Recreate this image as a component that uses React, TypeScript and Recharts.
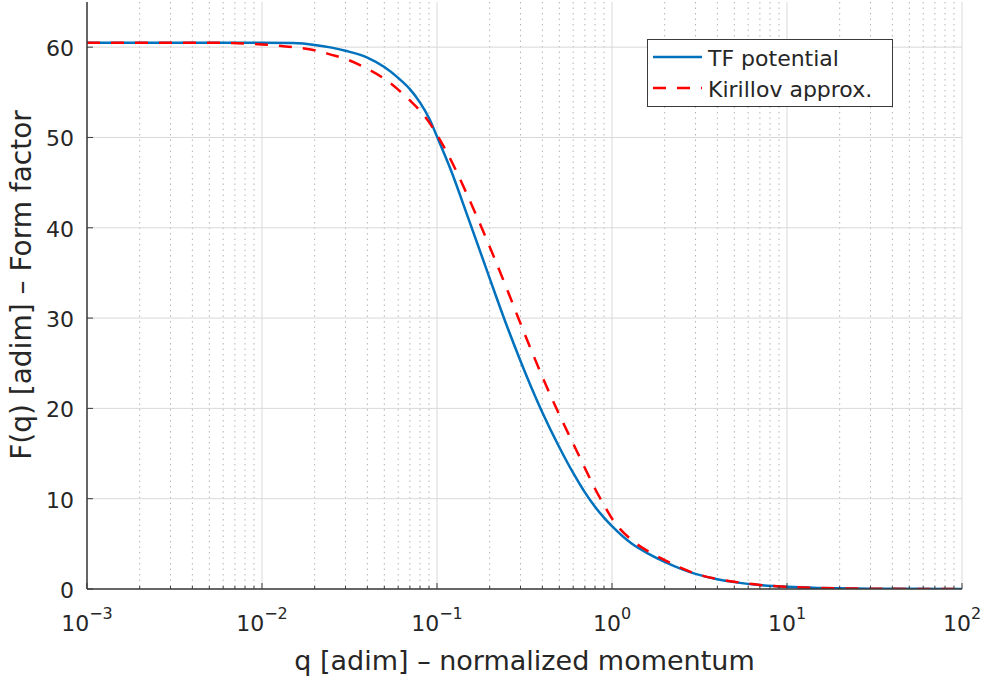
import { LineChart, Line, XAxis, YAxis, CartesianGrid, Legend } from "recharts";

// q grid (log spaced) and the two form factor curves
const qValues = [
  0.001, 0.002, 0.005, 0.01, 0.015, 0.02, 0.025, 0.03, 0.04, 0.05, 0.06, 0.07,
  0.08, 0.09, 0.1, 0.12, 0.15, 0.18, 0.2, 0.25, 0.3, 0.35, 0.4, 0.5, 0.6, 0.7,
  0.8, 0.9, 1, 1.3, 1.6, 2, 2.5, 3, 4, 5, 7, 10, 15, 20, 30, 50, 100,
];
const tfPotential = [
  60.5, 60.5, 60.5, 60.5, 60.45, 60.25, 59.95, 59.6, 58.85, 57.8, 56.6, 55.35,
  53.85, 52.15, 50.1, 46.4, 41.2, 36.9, 34.4, 29.2, 25.25, 22.1, 19.55, 15.7, 12.85, 10.7,
  9.1, 7.9, 6.95, 5.0, 3.95, 3.0, 2.2, 1.68, 1.08, 0.76, 0.44, 0.24, 0.12, 0.08, 0.04, 0.02, 0.01,
];
const kirillovApprox = [
  60.5, 60.5, 60.5, 60.3, 60.0, 59.65, 59.15, 58.7, 57.6, 56.5, 55.3, 54.1,
  52.95, 51.7, 50.3, 47.5, 43.5, 40.0, 37.9, 33.3, 29.4, 26.2, 23.5, 19.3, 16.1, 13.4,
  11.1, 9.3, 7.8, 5.4, 4.2, 3.2, 2.3, 1.7, 1.1, 0.8, 0.45, 0.25, 0.12, 0.07, 0.03, 0.01, 0.005,
];

const xMajorTicks = [0.001, 0.01, 0.1, 1, 10, 100];
const xTickExponents = ["\u22123", "\u22122", "\u22121", "0", "1", "2"];
const xMinorTicks = xMajorTicks.slice(0, -1).flatMap((d) =>
  [2, 3, 4, 5, 6, 7, 8, 9].map((m) => m * d)
);
const xAllTicks = [...xMajorTicks, ...xMinorTicks];
const yTicks = [0, 10, 20, 30, 40, 50, 60];

const chartData = qValues.map((q, i) => ({
  q,
  tf: tfPotential[i],
  kir: kirillovApprox[i],
}));

const FONT = "'DejaVu Sans', sans-serif";
const AXIS = "#3a3a3a";
const TEXT = "#262626";
const BLUE = "#0072BD";
const RED = "#FF0000";

const isMajor = (v: number) =>
  Math.abs(Math.log10(v) - Math.round(Math.log10(v))) < 1e-9;

const BottomTick = (props: any) => {
  const { x, y, payload } = props;
  const v = payload.value;
  const major = isMajor(v);
  const idx = xMajorTicks.findIndex((t) => Math.abs(Math.log10(t) - Math.log10(v)) < 1e-9);
  return (
    <g>
      <line x1={x} y1={y} x2={x} y2={y - (major ? 6 : 3)} stroke={AXIS} strokeWidth={1} />
      {major && (
        <text x={x} y={y + 42} textAnchor="middle" fontFamily={FONT} fontSize={22} fill={TEXT}>
          <tspan>10</tspan>
          <tspan dy={-12} fontSize={16}>{xTickExponents[idx]}</tspan>
        </text>
      )}
    </g>
  );
};

const TopTick = (props: any) => {
  const { x, y, payload } = props;
  const major = isMajor(payload.value);
  return <line x1={x} y1={y} x2={x} y2={y + (major ? 6 : 3)} stroke={AXIS} strokeWidth={1} />;
};

const LeftTick = (props: any) => {
  const { x, y, payload } = props;
  return (
    <g>
      <line x1={x} y1={y} x2={x + 6} y2={y} stroke={AXIS} strokeWidth={1} />
      <text x={x - 13} y={y + 9} textAnchor="end" fontFamily={FONT} fontSize={22} fill={TEXT}>
        {payload.value}
      </text>
    </g>
  );
};

const RightTick = (props: any) => {
  const { x, y } = props;
  return <line x1={x} y1={y} x2={x - 6} y2={y} stroke={AXIS} strokeWidth={1} />;
};

const LegendBox = () => (
  <svg width={246} height={68} style={{ display: "block" }}>
    <rect x={0.5} y={0.5} width={245} height={67} fill="#fff" stroke={AXIS} strokeWidth={1} />
    <line x1={6} y1={18} x2={55} y2={18} stroke={BLUE} strokeWidth={2.5} />
    <text x={61} y={27} fontFamily={FONT} fontSize={22} fill={TEXT}>TF potential</text>
    <line x1={6} y1={49} x2={55} y2={49} stroke={RED} strokeWidth={2.5} strokeDasharray="13 11" />
    <text x={61} y={58} fontFamily={FONT} fontSize={22} fill={TEXT}>Kirillov approx.</text>
  </svg>
);

export default function App() {
  return (
    <div style={{ position: "absolute", left: 0, top: 0, background: "#fff" }}>
      <LineChart
        width={988}
        height={682}
        data={chartData}
        margin={{ top: 2, right: 26, bottom: 0, left: 0 }}
      >
        <CartesianGrid
          xAxisId="bottom"
          yAxisId="left"
          verticalValues={xMinorTicks}
          horizontal={false}
          stroke="#b4b4b4"
          strokeDasharray="1.5 4"
        />
        <CartesianGrid
          xAxisId="bottom"
          yAxisId="left"
          verticalValues={xMajorTicks}
          horizontalValues={yTicks}
          stroke="#d9d9d9"
          strokeWidth={1}
        />
        <XAxis
          xAxisId="bottom"
          dataKey="q"
          type="number"
          scale="log"
          domain={[0.001, 100]}
          allowDataOverflow
          ticks={xAllTicks}
          interval={0}
          height={93}
          tickSize={0}
          tickMargin={0}
          tick={<BottomTick />}
          axisLine={{ stroke: AXIS, strokeWidth: 1.5 }}
          tickLine={false}
          label={{
            content: (p: any) => (
              <text
                x={p.viewBox.x + p.viewBox.width / 2}
                y={670}
                textAnchor="middle"
                fontFamily={FONT}
                fontSize={27}
                fill={TEXT}
              >
                q [adim] – normalized momentum
              </text>
            ),
          }}
        />
        <XAxis
          xAxisId="top"
          orientation="top"
          dataKey="q"
          type="number"
          scale="log"
          domain={[0.001, 100]}
          allowDataOverflow
          ticks={xAllTicks}
          interval={0}
          height={0}
          tickSize={0}
          tickMargin={0}
          tick={<TopTick />}
          axisLine={{ stroke: AXIS, strokeWidth: 1.5 }}
          tickLine={false}
        />
        <YAxis
          yAxisId="left"
          type="number"
          domain={[0, 65]}
          allowDataOverflow
          ticks={yTicks}
          interval={0}
          width={87}
          tickSize={0}
          tickMargin={0}
          tick={<LeftTick />}
          axisLine={{ stroke: AXIS, strokeWidth: 1.5 }}
          tickLine={false}
          label={{
            content: () => (
              <text
                transform="translate(31,285) rotate(-90)"
                textAnchor="middle"
                fontFamily={FONT}
                fontSize={28}
                fill={TEXT}
              >
                F(q) [adim] – Form factor
              </text>
            ),
          }}
        />
        <YAxis
          yAxisId="right"
          orientation="right"
          type="number"
          domain={[0, 65]}
          allowDataOverflow
          ticks={yTicks}
          interval={0}
          width={0}
          tickSize={0}
          tickMargin={0}
          tick={<RightTick />}
          axisLine={{ stroke: AXIS, strokeWidth: 1.5 }}
          tickLine={false}
        />
        <Line
          xAxisId="bottom"
          yAxisId="left"
          type="monotone"
          dataKey="tf"
          name="TF potential"
          stroke={BLUE}
          strokeWidth={2.5}
          dot={false}
          isAnimationActive={false}
        />
        <Line
          xAxisId="bottom"
          yAxisId="left"
          type="monotone"
          dataKey="kir"
          name="Kirillov approx."
          stroke={RED}
          strokeWidth={2.5}
          strokeDasharray="13 11"
          dot={false}
          isAnimationActive={false}
        />
        <Legend
          layout="vertical"
          align="center"
          verticalAlign="middle"
          content={() => <LegendBox />}
          wrapperStyle={{ position: "absolute", left: 647, top: 39, width: 246, height: 68 }}
        />
      </LineChart>
    </div>
  );
}
